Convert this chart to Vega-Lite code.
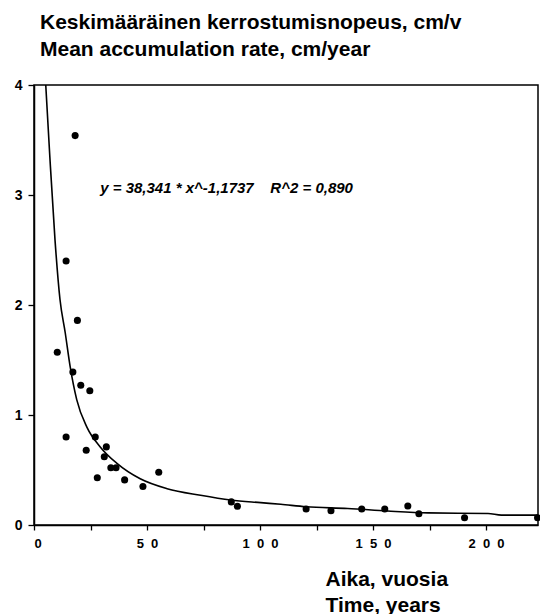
{
  "$schema": "https://vega.github.io/schema/vega-lite/v6.json",
  "width": 504,
  "height": 440,
  "autosize": "none",
  "padding": {"left": 34, "top": 85, "right": 2, "bottom": 89},
  "background": "white",
  "config": {
    "view": {"stroke": "black", "strokeWidth": 1.5},
    "font": "Liberation Sans"
  },
  "title": {
    "text": ["Keskimääräinen kerrostumisnopeus, cm/v", "Mean accumulation rate, cm/year"],
    "anchor": "start",
    "frame": "group",
    "font": "Liberation Sans",
    "fontSize": 21,
    "fontWeight": "bold",
    "color": "black",
    "lineHeight": 27,
    "baseline": "bottom",
    "offset": -3,
    "dx": 6
  },
  "datasets": {
    "points": [
      {"time": 18.2, "rate": 3.54},
      {"time": 14.2, "rate": 2.40},
      {"time": 19.2, "rate": 1.86},
      {"time": 10.3, "rate": 1.57},
      {"time": 17.2, "rate": 1.39},
      {"time": 20.7, "rate": 1.27},
      {"time": 24.7, "rate": 1.22},
      {"time": 14.2, "rate": 0.80},
      {"time": 27.1, "rate": 0.80},
      {"time": 32.0, "rate": 0.71},
      {"time": 23.1, "rate": 0.68},
      {"time": 31.1, "rate": 0.62},
      {"time": 34.0, "rate": 0.52},
      {"time": 36.3, "rate": 0.52},
      {"time": 28.0, "rate": 0.43},
      {"time": 40.1, "rate": 0.41},
      {"time": 48.2, "rate": 0.35},
      {"time": 55.2, "rate": 0.48},
      {"time": 87.3, "rate": 0.21},
      {"time": 90.0, "rate": 0.17},
      {"time": 120.4, "rate": 0.145},
      {"time": 131.4, "rate": 0.13},
      {"time": 145.0, "rate": 0.145},
      {"time": 155.2, "rate": 0.145},
      {"time": 165.4, "rate": 0.173},
      {"time": 170.3, "rate": 0.103},
      {"time": 190.5, "rate": 0.066},
      {"time": 222.8, "rate": 0.066}
    ],
    "curve": [
      {"time": 5.2, "fit": 4.0},
      {"time": 7.0, "fit": 3.35},
      {"time": 9.3, "fit": 2.59},
      {"time": 11.5, "fit": 2.05},
      {"time": 13.8, "fit": 1.75},
      {"time": 16.0, "fit": 1.44},
      {"time": 18.9, "fit": 1.14},
      {"time": 23.4, "fit": 0.89},
      {"time": 29.3, "fit": 0.71},
      {"time": 36.7, "fit": 0.56},
      {"time": 47.0, "fit": 0.42},
      {"time": 58.9, "fit": 0.33},
      {"time": 73.7, "fit": 0.27},
      {"time": 87.0, "fit": 0.227},
      {"time": 100.3, "fit": 0.203},
      {"time": 109.2, "fit": 0.188},
      {"time": 120.4, "fit": 0.166},
      {"time": 138.8, "fit": 0.15},
      {"time": 156.5, "fit": 0.127},
      {"time": 174.3, "fit": 0.11},
      {"time": 200.9, "fit": 0.105},
      {"time": 206.8, "fit": 0.09},
      {"time": 223.0, "fit": 0.09}
    ]
  },
  "layer": [
    {
      "data": {"name": "curve"},
      "mark": {"type": "line", "color": "black", "strokeWidth": 1.6, "interpolate": "monotone"},
      "encoding": {
        "x": {
          "field": "time", "type": "quantitative",
          "scale": {"domain": [0, 223], "nice": false, "zero": false},
          "axis": {
            "values": [0, 25, 50, 75, 100, 125, 150, 175, 200],
            "labelExpr": "datum.value == 0 ? '0' : datum.value == 50 ? '5\u00a0\u00a00' : datum.value == 100 ? '1\u00a0\u00a00\u00a0\u00a00' : datum.value == 150 ? '1\u00a0\u00a05\u00a0\u00a00' : datum.value == 200 ? '2\u00a0\u00a00\u00a0\u00a00' : ''",
            "grid": false,
            "domainColor": "black",
            "domainWidth": 1.5,
            "tickColor": "black",
            "tickWidth": 1.3,
            "tickSize": 5,
            "labelFont": "Liberation Sans",
            "labelFontSize": 13,
            "labelFontWeight": "bold",
            "labelColor": "black",
            "labelPadding": 7,
            "title": ["Aika, vuosia", "Time, years"],
            "titleFont": "Liberation Sans",
            "titleFontSize": 21,
            "titleFontWeight": "bold",
            "titleColor": "black",
            "titleAlign": "left",
            "titleBaseline": "alphabetic",
            "titleX": 291,
            "titleY": 60,
            "titleLineHeight": 26
          }
        },
        "y": {
          "field": "fit", "type": "quantitative",
          "scale": {"domain": [0, 4], "nice": false},
          "axis": {
            "values": [0, 0.5, 1, 1.5, 2, 2.5, 3, 3.5, 4],
            "format": "d",
            "labelExpr": "datum.value % 1 == 0 ? datum.label : ''",
            "grid": false,
            "domainColor": "black",
            "domainWidth": 1.5,
            "tickColor": "black",
            "tickWidth": 1.3,
            "tickSize": {"condition": {"test": "datum.value % 1 == 0", "value": 6}, "value": 3},
            "labelFont": "Liberation Sans",
            "labelFontSize": 14,
            "labelFontWeight": "bold",
            "labelColor": "black",
            "labelPadding": 6,
            "title": null
          }
        }
      }
    },
    {
      "data": {"name": "points"},
      "mark": {"type": "circle", "color": "black", "opacity": 1, "size": 50},
      "encoding": {
        "x": {"field": "time", "type": "quantitative"},
        "y": {"field": "rate", "type": "quantitative"}
      }
    },
    {
      "data": {"values": [{"label": "y = 38,341 * x^-1,1737\u00a0\u00a0\u00a0\u00a0R^2 = 0,890"}]},
      "mark": {"type": "text", "align": "left", "baseline": "alphabetic", "font": "Liberation Sans", "fontSize": 15, "fontWeight": "bold", "fontStyle": "italic", "color": "black"},
      "encoding": {
        "x": {"datum": 29.3},
        "y": {"datum": 3.02},
        "text": {"field": "label"}
      }
    }
  ]
}
